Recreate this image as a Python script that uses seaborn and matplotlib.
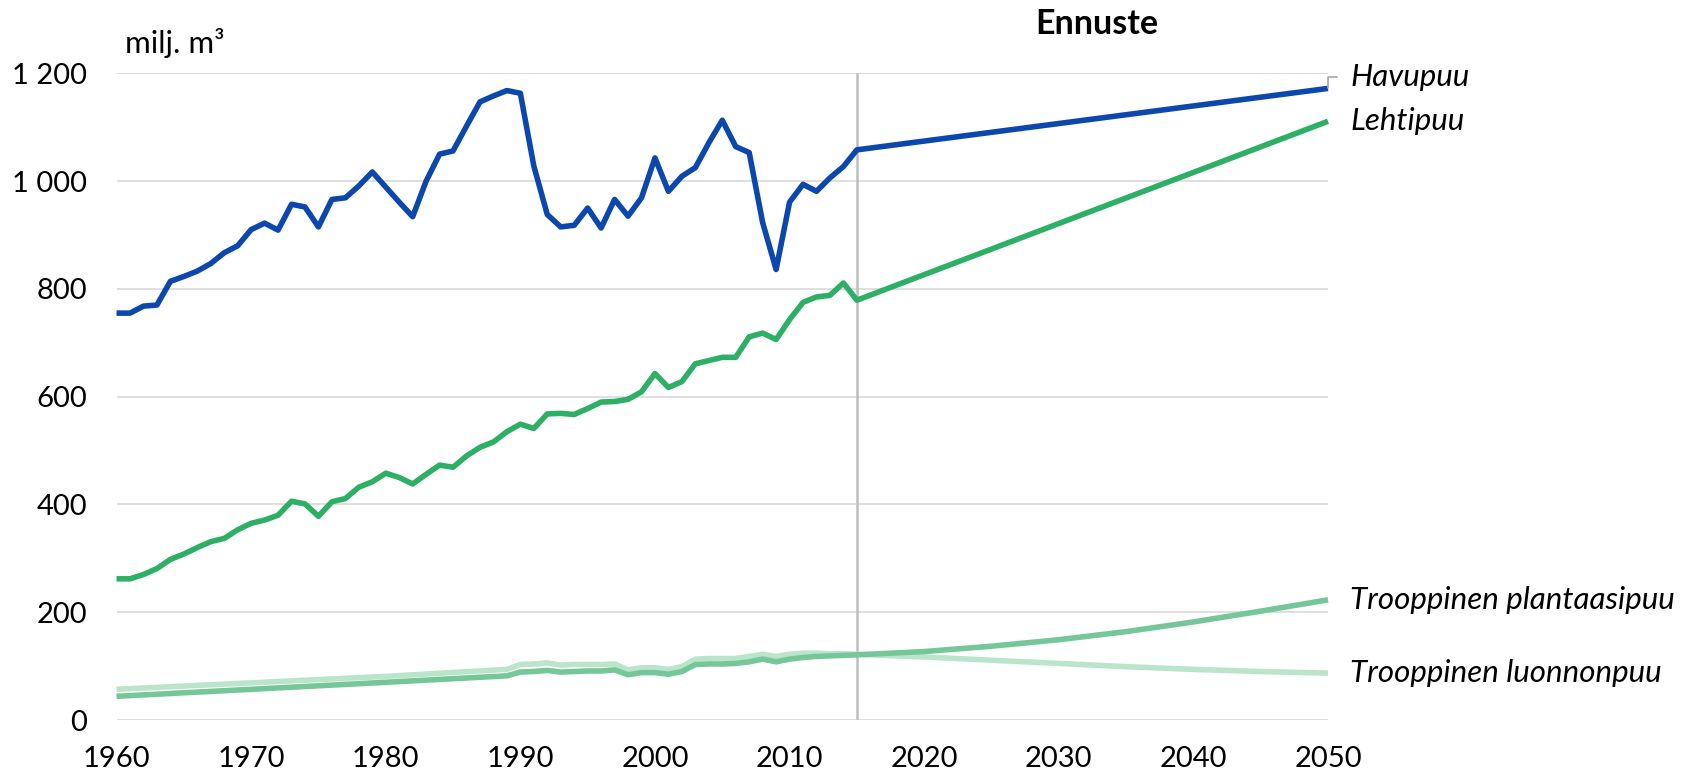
import numpy as np
import pandas as pd
import matplotlib
matplotlib.use("Agg")
import matplotlib.pyplot as plt
import seaborn as sns

# ---- data (milj. m³) ----
hist_years = list(range(1960, 2016))
proj_years = [2050]

havupuu_hist = [755, 755, 768, 770, 814, 823, 833, 847, 867, 880,
                910, 922, 909, 957, 952, 915, 966, 969, 991, 1017,
                989, 961, 934, 1000, 1050, 1056, 1102, 1147, 1158, 1168,
                1163, 1028, 938, 915, 918, 950, 913, 966, 935, 969,
                1043, 981, 1009, 1025, 1071, 1113, 1064, 1053, 923, 836,
                961, 994, 981, 1006, 1027, 1058]
havupuu_proj = [1172]

lehtipuu_hist = [262, 262, 270, 281, 298, 308, 320, 331, 337, 353,
                 365, 371, 380, 406, 401, 378, 405, 411, 432, 442,
                 458, 450, 438, 456, 473, 469, 490, 506, 516, 535,
                 549, 541, 568, 569, 567, 578, 590, 591, 595, 609,
                 643, 617, 628, 661, 667, 673, 673, 711, 718, 706,
                 743, 775, 785, 788, 811, 779]
lehtipuu_proj = [1111]

trop_years = [1960, 1970, 1980, 1989, 1990, 1991, 1992, 1993, 1994, 1995,
              1996, 1997, 1998, 1999, 2000, 2001, 2002, 2003, 2004, 2005,
              2006, 2007, 2008, 2009, 2010, 2011, 2012, 2013, 2014, 2015,
              2020, 2025, 2030, 2035, 2040, 2045, 2050]
plantaasi = [44, 57, 70, 82, 89, 90, 92, 89, 90, 91,
             91, 93, 84, 88, 88, 85, 90, 103, 104, 104,
             105, 108, 113, 108, 113, 116, 118, 119, 120, 121,
             127, 137, 149, 164, 182, 202, 223]
luonnon = [57, 69, 81, 94, 103, 104, 106, 102, 103, 103,
           103, 104, 93, 97, 97, 94, 99, 113, 114, 114,
           114, 118, 122, 118, 122, 124, 124, 123, 123, 122,
           117, 111, 105, 99, 94, 90, 87]

forecast_start = 2015
x_ticks = list(range(1960, 2051, 10))
y_ticks = list(range(0, 1201, 200))
y_ticklabels = ["0", "200", "400", "600", "800", "1 000", "1 200"]

colors = {
    "Havupuu": "#0B47AD",
    "Lehtipuu": "#2DAF66",
    "Trooppinen plantaasipuu": "#75C799",
    "Trooppinen luonnonpuu": "#BBE5CB",
}

frames = [
    pd.DataFrame({"vuosi": hist_years + proj_years, "arvo": havupuu_hist + havupuu_proj, "laji": "Havupuu"}),
    pd.DataFrame({"vuosi": hist_years + proj_years, "arvo": lehtipuu_hist + lehtipuu_proj, "laji": "Lehtipuu"}),
    pd.DataFrame({"vuosi": trop_years, "arvo": plantaasi, "laji": "Trooppinen plantaasipuu"}),
    pd.DataFrame({"vuosi": trop_years, "arvo": luonnon, "laji": "Trooppinen luonnonpuu"}),
]
df = pd.concat(frames, ignore_index=True)

# ---- styling ----
sns.set_theme(style="white")
plt.rcParams["font.family"] = ["Lato", "DejaVu Sans"]
FS_TICK = 21
FS_TEXT = 22.5

fig = plt.figure(figsize=(16.84, 7.80), dpi=100)
ax = fig.add_axes([0.0692, 0.0769, 0.7194, 0.8291])

ax.set_xlim(1960, 2050)
ax.set_ylim(0, 1200)

for y in y_ticks:
    ax.axhline(y, color="#D9D9D9", lw=1.2, zorder=0)
ax.axvline(forecast_start, color="#BFBFBF", lw=1.8, zorder=1)

draw_order = ["Trooppinen luonnonpuu", "Trooppinen plantaasipuu", "Lehtipuu", "Havupuu"]
for name in draw_order:
    sub = df[df["laji"] == name]
    sns.lineplot(data=sub, x="vuosi", y="arvo", ax=ax, color=colors[name],
                 linewidth=4.0, estimator=None, legend=False, zorder=3,
                 solid_joinstyle="round", solid_capstyle="butt", clip_on=False)

for s in ax.spines.values():
    s.set_visible(False)

ax.set_xticks(x_ticks)
ax.set_xticklabels([str(x) for x in x_ticks], fontsize=FS_TICK, color="#000000")
ax.set_yticks(y_ticks)
ax.set_yticklabels(y_ticklabels, fontsize=FS_TICK, color="#000000")
ax.tick_params(axis="x", length=0, pad=19)
ax.tick_params(axis="y", length=0, pad=21)
ax.set_xlabel("")
ax.set_ylabel("")

# unit and forecast headers
ax.text(1960.6, 1256, "milj. m³", fontsize=FS_TEXT, ha="left", va="center", color="#000000")
ax.text(2032.8, 1291, "Ennuste", fontsize=24.5, fontweight="bold", ha="center", va="center", color="#000000")

# series labels at the right end of each line
end_vals = {
    "Havupuu": havupuu_proj[-1],
    "Lehtipuu": lehtipuu_proj[-1],
    "Trooppinen plantaasipuu": plantaasi[-1],
    "Trooppinen luonnonpuu": luonnon[-1],
}
ax.annotate("Havupuu", xy=(2050, end_vals["Havupuu"]), xytext=(16, 8),
            textcoords="offset points", fontsize=FS_TEXT, fontstyle="italic",
            ha="left", va="center", color="#000000",
            arrowprops=dict(arrowstyle="-", color="#A6A6A6", lw=1.2,
                            connectionstyle="angle,angleA=0,angleB=90,rad=0",
                            shrinkA=7, shrinkB=0, relpos=(0, 0.5)))
for name in ["Lehtipuu", "Trooppinen plantaasipuu", "Trooppinen luonnonpuu"]:
    ax.annotate(name, xy=(2050, end_vals[name]), xytext=(16, 0),
                textcoords="offset points", fontsize=FS_TEXT, fontstyle="italic",
                ha="left", va="center", color="#000000")

fig.savefig("out.png", dpi=100, facecolor="white")
